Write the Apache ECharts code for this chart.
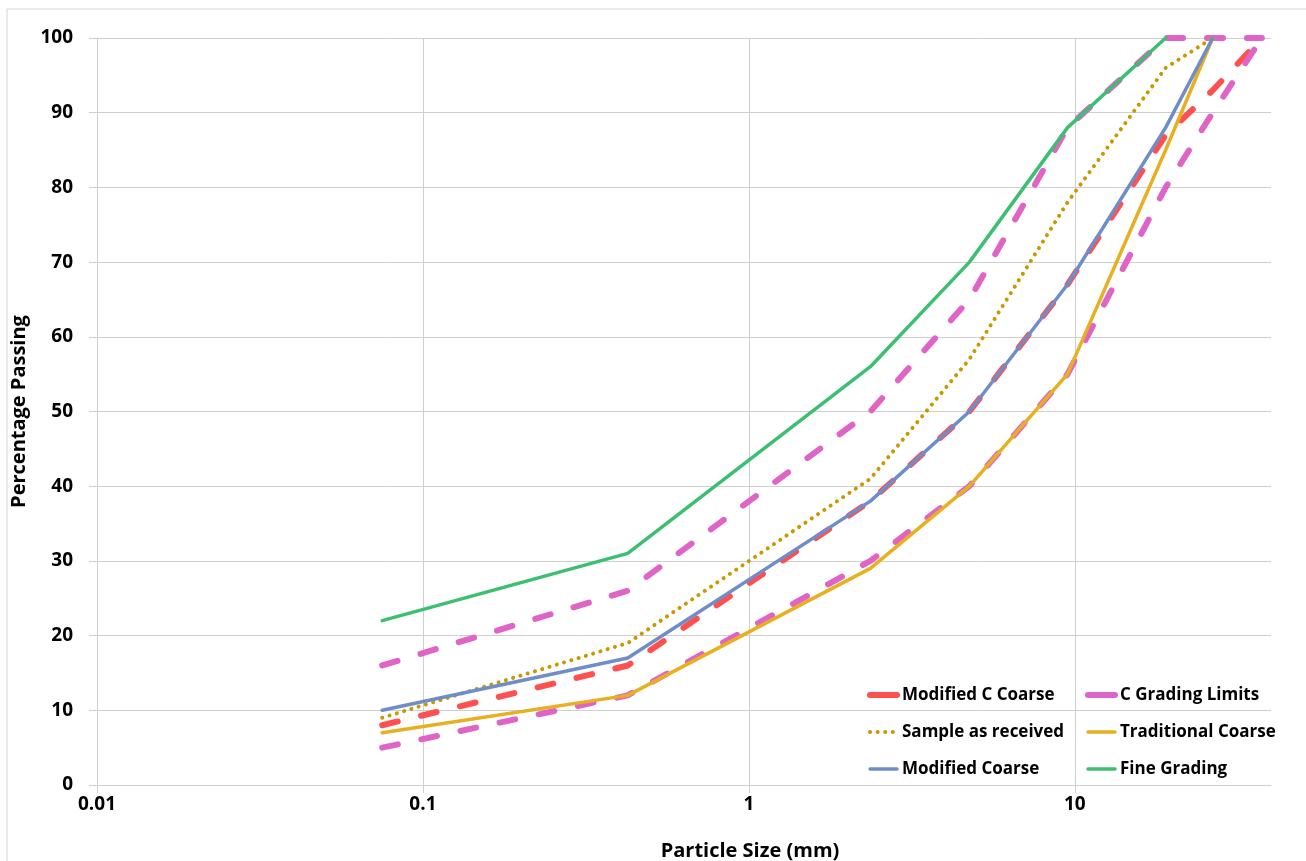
<!DOCTYPE html>
<html>
<head>
<meta charset="utf-8">
<script src="https://cdn.jsdelivr.net/npm/echarts@6/dist/echarts.min.js"></script>
<style>
  html, body { margin: 0; padding: 0; background: #fff; }
  #chart { width: 1306px; height: 861px; }
</style>
</head>
<body>
<div id="chart"></div>
<script>
// sieve sizes (mm)
const sizes = [0.075, 0.425, 2.36, 4.75, 9.5, 19, 26.5, 37.5];

// percentage passing per series (null = no point)
const modifiedCCoarse = [8, 16, 38, 50, 67, 87, 93, 100];
const cLimitUpper = [16, 26, 50, 65, 88, 100, 100, 100];
const cLimitLower = [5, 12, 30, 40, 55, 80, 90, 100];
const sampleAsReceived = [9, 19, 41, 57, 78, 96, 100, null];
const traditionalCoarse = [7, 12, 29, 40, 55, 85, 100, null];
const modifiedCoarse = [10, 17, 38, 50, 67, 88, 100, null];
const fineGrading = [22, 31, 56, 70, 88, 100, null, null];

const yTicks = [0, 10, 20, 30, 40, 50, 60, 70, 80, 90, 100];

function pairs(vals) {
  const out = [];
  vals.forEach((v, i) => { if (v != null) out.push([sizes[i], v]); });
  return out;
}

const font = "'Open Sans', 'Noto Sans', sans-serif";
const gridColor = "#cfcfcf";

function lineSeries(name, vals, color, width, type, z) {
  return {
    name: name,
    type: "line",
    data: pairs(vals),
    symbol: "none",
    z: z,
    lineStyle: { color: color, width: width, type: type, cap: "round" },
    itemStyle: { color: color },
    emphasis: { disabled: true }
  };
}

const legendText = { color: "#000", fontSize: 17, fontWeight: "bold", fontFamily: font, lineHeight: 20 };
const legendBase = {
  orient: "vertical",
  top: 680,
  itemWidth: 27,
  itemHeight: 14,
  itemGap: 17,
  selectedMode: false,
  itemStyle: { opacity: 0 },
  lineStyle: { width: "inherit", type: "inherit", cap: "round" },
  textStyle: legendText
};
const solidPill = { width: 6, type: "solid", cap: "round" };

const chart = echarts.init(document.getElementById("chart"));
chart.setOption({
  animation: false,
  backgroundColor: "#fff",
  grid: { left: 97, right: 35, top: 38, bottom: 76 },
  graphic: [
    {
      type: "rect",
      shape: { x: 7, y: 9, width: 1400, height: 900 },
      style: { fill: "none", stroke: "#d4d4d4", lineWidth: 1 },
      silent: true,
      z: -10
    },
    {
      type: "text",
      x: 750,
      y: 851,
      style: {
        text: "Particle Size (mm)",
        font: "bold 20px " + font,
        fill: "#000",
        textAlign: "center",
        textVerticalAlign: "middle"
      }
    }
  ],
  xAxis: {
    type: "log",
    logBase: 10,
    min: 0.01,
    max: 40,
    axisLine: { show: true, lineStyle: { color: gridColor, width: 1 } },
    axisTick: { show: true, length: 8, lineStyle: { color: gridColor } },
    splitLine: { show: true, showMinLine: false, showMaxLine: false, lineStyle: { color: gridColor, width: 1 } },
    minorTick: { show: false },
    axisLabel: {
      margin: 10,
      color: "#000",
      fontSize: 19,
      fontWeight: "bold",
      fontFamily: font,
      showMaxLabel: false,
      formatter: function (v) {
        const e = Math.round(Math.log10(v));
        if (Math.abs(Math.log10(v) - e) > 1e-6) return "";
        return String(Number(Math.pow(10, e).toPrecision(1)));
      }
    }
  },
  yAxis: {
    type: "value",
    min: yTicks[0],
    max: yTicks[yTicks.length - 1],
    interval: yTicks[1] - yTicks[0],
    name: "Percentage Passing",
    nameLocation: "middle",
    nameRotate: 90,
    nameGap: 64,
    nameTextStyle: { color: "#000", fontSize: 20, fontWeight: "bold", fontFamily: font },
    axisLine: { show: true, lineStyle: { color: gridColor, width: 1 } },
    axisTick: { show: true, length: 8, lineStyle: { color: gridColor } },
    splitLine: { show: true, lineStyle: { color: gridColor, width: 1 } },
    axisLabel: { margin: 24, color: "#000", fontSize: 19, fontWeight: "bold", fontFamily: font }
  },
  legend: [
    Object.assign({}, legendBase, {
      left: 862,
      data: [
        { name: "Modified C Coarse", lineStyle: solidPill },
        "Sample as received",
        "Modified Coarse"
      ]
    }),
    Object.assign({}, legendBase, {
      left: 1080,
      data: [
        { name: "C Grading Limits", lineStyle: solidPill },
        "Traditional Coarse",
        "Fine Grading"
      ]
    })
  ],
  series: [
    lineSeries("Modified C Coarse", modifiedCCoarse, "#ff5050", 6, [16, 24], 2),
    lineSeries("C Grading Limits", cLimitUpper, "#e064c6", 6, [16, 24], 3),
    lineSeries("C Grading Limits", cLimitLower, "#e064c6", 6, [16, 24], 3),
    lineSeries("Sample as received", sampleAsReceived, "#c89a00", 4, [0.1, 7.5], 4),
    lineSeries("Traditional Coarse", traditionalCoarse, "#e8b020", 3.5, "solid", 5),
    lineSeries("Modified Coarse", modifiedCoarse, "#6f8dc8", 3.5, "solid", 6),
    lineSeries("Fine Grading", fineGrading, "#3dbf72", 3.5, "solid", 7)
  ]
});
</script>
</body>
</html>
